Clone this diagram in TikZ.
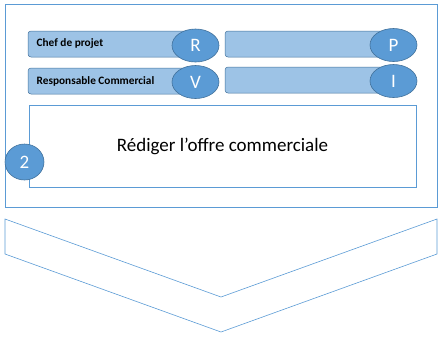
\documentclass[tikz,border=0pt]{standalone}
\usepackage{fontspec}
\setmainfont{Carlito}
\usetikzlibrary{shapes.geometric}
\definecolor{outl}{HTML}{5B9BD5}
\definecolor{barfill}{HTML}{9DC3E6}
\definecolor{ellfill}{HTML}{5B9BD5}
\definecolor{elldraw}{HTML}{41719C}
\tikzset{
  bar/.style={draw=elldraw, line width=0.5pt, fill=barfill, rounded corners=3pt, minimum height=26pt, inner sep=0pt},
  role/.style={draw=elldraw, line width=0.6pt, fill=ellfill, ellipse, minimum width=47pt, minimum height=33pt, inner sep=0pt, text=white, font=\fontsize{19}{21}\selectfont},
  bartext/.style={font=\bfseries\fontsize{11.3}{13}\selectfont, anchor=west, inner sep=0pt},
}
\begin{document}
\begin{tikzpicture}[x=1pt,y=-1pt]
\useasboundingbox (0,0) rectangle (443,341);
% outer frame
\node[draw=outl, line width=0.8pt, minimum width=432pt, minimum height=203pt, inner sep=0pt] (frame) at (221,105.5) {};
% bars
\node[bar, minimum width=170pt] (b1) at (113,44) {};
\node[bar, minimum width=170pt] (b2) at (310,44) {};
\node[bar, minimum width=170pt] (b3) at (113,81) {};
\node[bar, minimum width=170pt] (b4) at (310,80) {};
\node[bartext] (t1) at (36.5,43) {Chef de projet};
\node[bartext] (t3) at (36.5,81) {Responsable Commercial};
\node[role] (r) at (195.5,45.5) {R};
\node[role] (p) at (393.5,45) {P};
\node[role] (v) at (195.5,82) {V};
\node[role] (i) at (393.5,81) {I};
% task box
\node[draw=outl, line width=0.6pt, fill=white, minimum width=387pt, minimum height=82pt, inner sep=0pt, font=\fontsize{19}{22}\selectfont] (task) at (222.5,146) {Rédiger l’offre commerciale};
\node[role, minimum width=39pt, minimum height=36pt] (num) at (24.5,162) {2};
% chevron
\coordinate (c1) at (5,219);
\coordinate (c2) at (221,297);
\coordinate (c3) at (437,219);
\coordinate (c4) at (437,254);
\coordinate (c5) at (221,332);
\coordinate (c6) at (5,254);
\draw[outl, line width=0.6pt] (c1) -- (c2) -- (c3) -- (c4) -- (c5) -- (c6) -- cycle;
\end{tikzpicture}
\end{document}
